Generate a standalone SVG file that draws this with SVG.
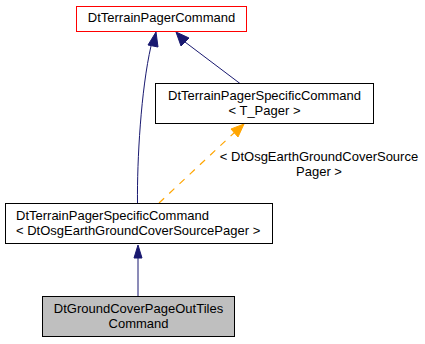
<svg xmlns="http://www.w3.org/2000/svg" width="425" height="344" viewBox="0 0 425 344">
<style>
text{font-family:"Liberation Sans",Arial,sans-serif;font-size:13px;fill:#000}
.box{fill:#fff;stroke:#000;stroke-width:1}
.e{fill:none;stroke:#191970;stroke-width:1}
.ah{fill:#191970;stroke:#191970}
.o{fill:none;stroke:#ffa500;stroke-width:1.2;stroke-dasharray:7,7}
.oh{fill:#ffa500;stroke:#ffa500}
</style>
<rect width="425" height="344" fill="#fff"/>
<g id="edges">
<path class="e" d="M137.5,203 C137,160 141,90 151,46"/>
<polygon class="ah" points="148,45 156,32 158,47"/>
<path class="e" d="M240,83.5 L185,42"/>
<polygon class="ah" points="181,46 176,32 189,38"/>
<path class="o" d="M159,203 L235,132"/>
<polygon class="oh" points="231,129 244,124 238,137"/>
<text x="319" y="161" text-anchor="middle">&lt; DtOsgEarthGroundCoverSource</text>
<text x="319" y="176" text-anchor="middle">Pager &gt;</text>
<path class="e" d="M138,296.5 L138,258"/>
<polygon class="ah" points="134,258 138,245 142,258"/>
</g>
<g id="node1">
<rect x="76.5" y="6.5" width="170" height="25" fill="#fff" stroke="#ff0000"/>
<text x="161.5" y="22" text-anchor="middle">DtTerrainPagerCommand</text>
</g>
<g id="node2">
<rect class="box" x="155.5" y="83.5" width="218" height="40"/>
<text x="264.5" y="100" text-anchor="middle">DtTerrainPagerSpecificCommand</text>
<text x="264.5" y="115" text-anchor="middle">&lt; T_Pager &gt;</text>
</g>
<g id="node3">
<rect class="box" x="5.5" y="203.5" width="267" height="40"/>
<text x="16" y="220">DtTerrainPagerSpecificCommand</text>
<text x="16" y="235">&lt; DtOsgEarthGroundCoverSourcePager &gt;</text>
</g>
<g id="node4">
<rect x="42.5" y="296.5" width="192" height="40" fill="#bfbfbf" stroke="#000"/>
<text x="138.5" y="313" text-anchor="middle">DtGroundCoverPageOutTiles</text>
<text x="138.5" y="328" text-anchor="middle">Command</text>
</g>
</svg>
